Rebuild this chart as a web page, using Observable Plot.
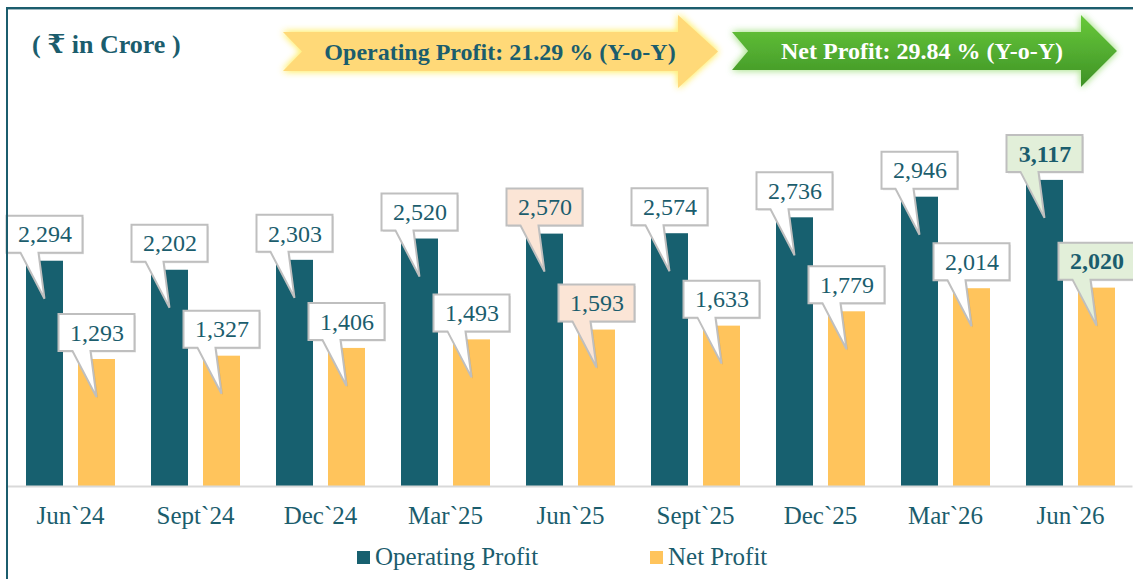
<!DOCTYPE html>
<html>
<head>
<meta charset="utf-8">
<script src="https://cdn.jsdelivr.net/npm/d3@7"></script>
<script src="https://cdn.jsdelivr.net/npm/@observablehq/plot@0.6"></script>
<style>
  html, body { margin: 0; padding: 0; background: #fff; }
  #wrap { position: relative; width: 1133px; height: 579px; overflow: hidden; font-family: "Liberation Serif", "DejaVu Serif", serif; }
  #frame { position: absolute; left: 6px; top: 7px; width: 1140px; height: 600px; border-top: 2px solid #1b5d6d; border-left: 2px solid #1b5d6d; box-shadow: inset 0 1px 0 #9fb8bf; pointer-events: none; }
  #header { position: relative; height: 100px; }
  #title { position: absolute; left: 32px; top: 29px; font-weight: bold; font-size: 26px; color: #1b5d6d; line-height: 32px; }
  #arrows { position: absolute; left: 0; top: 0; }
  #legend { position: relative; height: 44px; font-size: 25px; color: #1b5d6d; }
  .li { position: absolute; top: 6px; line-height: 32px; }
  .sw { display: inline-block; width: 13px; height: 13px; margin-right: 5px; vertical-align: 1px; }
</style>
</head>
<body>
<div id="wrap">
  <div id="header">
    <svg id="arrows" width="1133" height="100"></svg>
    <div id="title">( ₹ in Crore )</div>
  </div>
  <div id="chart"></div>
  <div id="legend"></div>
  <div id="frame"></div>
</div>
<script>
// ---- data ----
const quarters = ["Jun`24", "Sept`24", "Dec`24", "Mar`25", "Jun`25", "Sept`25", "Dec`25", "Mar`26", "Jun`26"];
const operatingProfit = [2294, 2202, 2303, 2520, 2570, 2574, 2736, 2946, 3117];
const netProfit = [1293, 1327, 1406, 1493, 1593, 1633, 1779, 2014, 2020];
const seriesNames = ["Operating Profit", "Net Profit"];
const headerTexts = ["Operating Profit: 21.29 % (Y-o-Y)", "Net Profit: 29.84 % (Y-o-Y)"];

// ---- styles ----
const TEAL = "#17606f", YELLOW = "#ffc45c", TXT = "#1b5d6d";
const FONT = "'Liberation Serif', 'DejaVu Serif', serif";
const calloutFill = q => q === "Jun`25" ? "#fbe5d6" : q === "Jun`26" ? "#e2efd9" : "#ffffff";
const isBold = d => d.q === "Jun`26";

const op = quarters.map((q, i) => ({q, v: operatingProfit[i], s: seriesNames[0]}));
const np = quarters.map((q, i) => ({q, v: netProfit[i], s: seriesNames[1]}));

// offsets within a 125px band
const BAR_W = 37, OP_L = 18.5, NP_L = 70.5;

function callouts(data, barLeft) {
  return (index, scales) => {
    const X = scales.x, Y = scales.y;
    const g = d3.create("svg:g");
    for (const d of data) {
      const cx = X(d.q) + barLeft + BAR_W / 2;
      const top = Y(d.v);
      const bottom = top - 8, boxTop = bottom - 37;
      const l = cx - 38, r = cx + 38;
      const tipY = top + 38;
      const path = `M${l},${boxTop}H${r}V${bottom}H${cx - 6}L${cx},${tipY}L${cx - 24},${bottom}H${l}Z`;
      g.append("path").attr("d", path).attr("transform", "translate(1.5,1.5)")
        .attr("fill", "rgba(0,0,0,0.10)");
      g.append("path").attr("d", path).attr("fill", calloutFill(d.q))
        .attr("stroke", "#bfbfbf").attr("stroke-width", 2).attr("stroke-linejoin", "miter");
    }
    return g.node();
  };
}

function valueText(data, barLeft, bold) {
  return Plot.text(data, {
    filter: d => isBold(d) === bold,
    x: "q", y: "v", text: d => d3.format(",")(d.v),
    dx: barLeft + BAR_W / 2 - 62.5, dy: -26.5,
    fontSize: 24, fill: TXT, fontWeight: bold ? "bold" : "normal", fontFamily: FONT
  });
}

const plot = Plot.plot({
  width: 1133,
  height: 435,
  marginLeft: 7.5,
  marginRight: 0.5,
  marginTop: 3,
  marginBottom: 49,
  style: {fontFamily: FONT, color: TXT, background: "transparent", overflow: "visible"},
  x: {type: "band", domain: quarters, padding: 0, round: false, axis: null, label: null},
  y: {domain: [0, 3900], axis: null},
  marks: [
    Plot.barY(op, {x: "q", y: "v", fill: TEAL, insetLeft: OP_L, insetRight: 125 - OP_L - BAR_W}),
    Plot.barY(np, {x: "q", y: "v", fill: YELLOW, insetLeft: NP_L, insetRight: 125 - NP_L - BAR_W}),
    Plot.ruleY([0], {stroke: "#d9d9d9", strokeWidth: 2}),
    Plot.axisX({domain: quarters, anchor: "bottom", label: null, tickSize: 0, tickPadding: 20, fontSize: 25, fill: TXT, fontFamily: FONT}),
    callouts(op, OP_L),
    callouts(np, NP_L),
    valueText(op, OP_L, false),
    valueText(op, OP_L, true),
    valueText(np, NP_L, false),
    valueText(np, NP_L, true)
  ]
});
document.getElementById("chart").appendChild(plot);

// ---- legend ----
const legend = d3.select("#legend");
[[seriesNames[0], TEAL, 357], [seriesNames[1], YELLOW, 650]].forEach(([name, c, x]) => {
  const it = legend.append("div").attr("class", "li").style("left", x + "px");
  it.append("span").attr("class", "sw").style("background", c);
  it.append("span").text(name);
});

// ---- header arrows ----
const as = d3.select("#arrows");
const defs = as.append("defs");
function glow(id, color) {
  const f = defs.append("filter").attr("id", id).attr("x", "-10%").attr("y", "-30%").attr("width", "120%").attr("height", "160%");
  f.append("feGaussianBlur").attr("in", "SourceAlpha").attr("stdDeviation", 3.5).attr("result", "b");
  f.append("feFlood").attr("flood-color", color).attr("result", "c");
  f.append("feComposite").attr("in", "c").attr("in2", "b").attr("operator", "in").attr("result", "g");
  const m = f.append("feMerge");
  m.append("feMergeNode").attr("in", "g"); m.append("feMergeNode").attr("in", "g"); m.append("feMergeNode").attr("in", "SourceGraphic");
}
glow("glowY", "#fff07a");
glow("glowG", "#b9e8a0");
const lg = defs.append("linearGradient").attr("id", "gradG").attr("x1", 0).attr("y1", 0).attr("x2", 0).attr("y2", 1);
lg.append("stop").attr("offset", "0%").attr("stop-color", "#68c93a");
lg.append("stop").attr("offset", "100%").attr("stop-color", "#3e9226");

as.append("path").attr("d", "M283,32 L678,32 L678,15 L718,51.5 L678,88 L678,71 L283,71 L302,51.5 Z")
  .attr("fill", "#ffd978").attr("filter", "url(#glowY)");
as.append("path").attr("d", "M732,32 L1081,32 L1081,15 L1117,51 L1081,87 L1081,70 L732,70 L748,51 Z")
  .attr("fill", "url(#gradG)").attr("filter", "url(#glowG)");
as.append("text").attr("x", 500).attr("y", 52).attr("dy", "0.35em").attr("text-anchor", "middle")
  .attr("font-family", FONT).attr("font-weight", "bold").attr("font-size", 24).attr("fill", TXT).text(headerTexts[0]);
as.append("text").attr("x", 922).attr("y", 51).attr("dy", "0.35em").attr("text-anchor", "middle")
  .attr("font-family", FONT).attr("font-weight", "bold").attr("font-size", 24).attr("fill", "#ffffff").text(headerTexts[1]);
</script>
</body>
</html>
